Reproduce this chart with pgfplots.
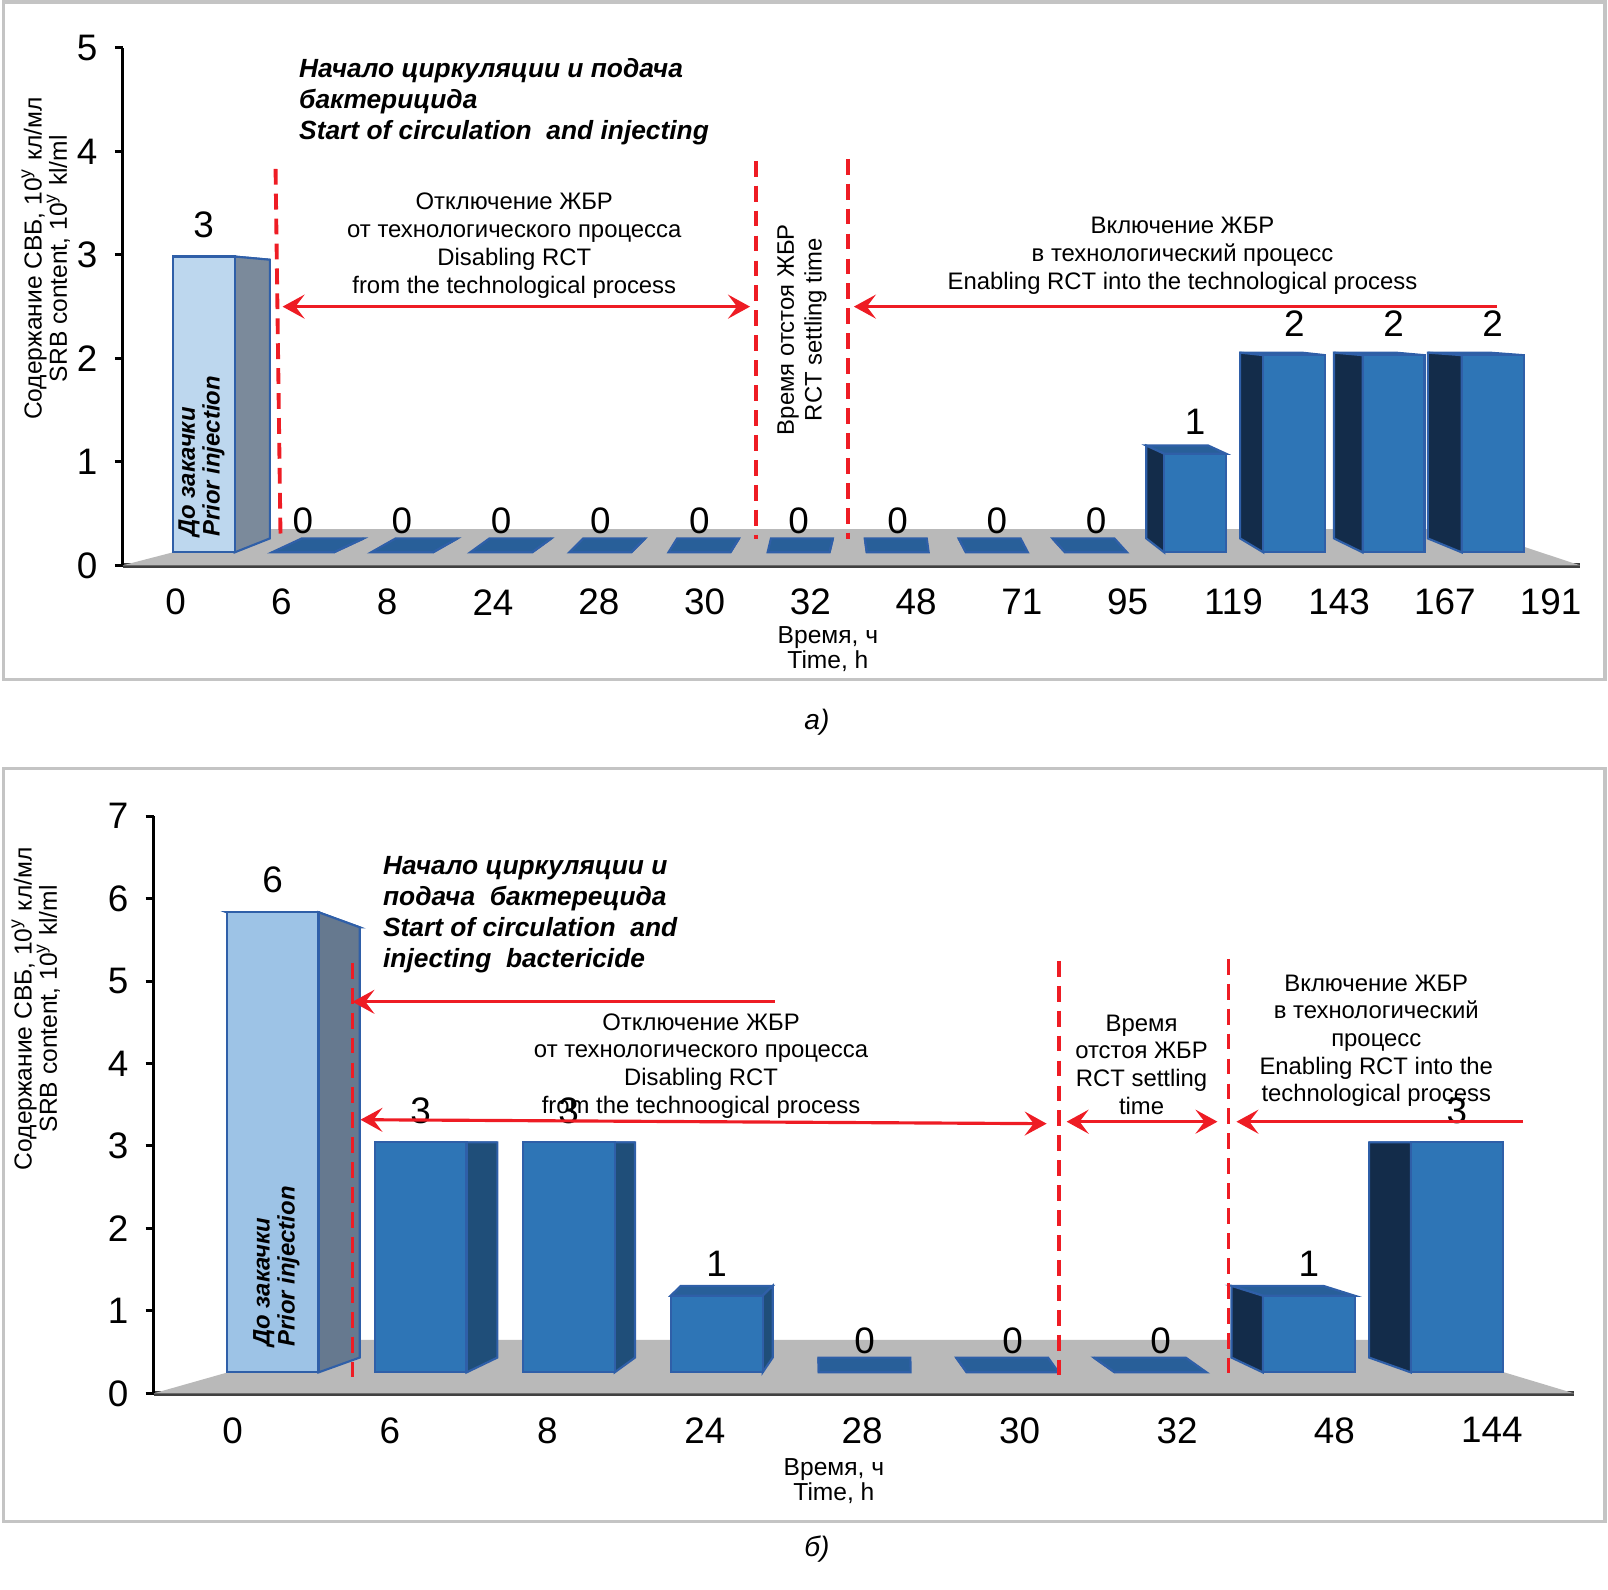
\documentclass[border=0pt]{standalone}
\usepackage{fontspec}
\setmainfont{Liberation Sans}
\usepackage{pgfplots}
\pgfplotsset{compat=1.18}
\usetikzlibrary{arrows.meta}

\definecolor{floorgray}{HTML}{B9B9B9}
\definecolor{floorline}{HTML}{404040}
\definecolor{frameg}{HTML}{C4C4C4}
\definecolor{redl}{HTML}{EE1C24}
\definecolor{bluefront}{HTML}{2E75B6}
\definecolor{bluetop}{HTML}{285F99}
\definecolor{blueside}{HTML}{1F4E79}
\definecolor{bluedark}{HTML}{132C4A}
\definecolor{edge}{HTML}{2F5FA8}
\definecolor{lightA}{HTML}{BDD7EE}
\definecolor{lightB}{HTML}{9DC3E6}
\definecolor{greyA}{HTML}{7B8A9B}
\definecolor{greyB}{HTML}{66798F}

\newcommand\ticks{\fontsize{10.5}{12}\selectfont}
\newcommand\ann{\fontsize{6.8}{7.9}\selectfont}
\newcommand\bi{\fontsize{7.5}{8.8}\selectfont\bfseries\itshape}
\newcommand\bis{\fontsize{6.8}{7.1}\selectfont\bfseries\itshape}
\newcommand\ylab{\fontsize{7}{7.2}\selectfont}

\tikzset{
  frontA/.style={fill=lightA, draw=edge, line width=0.6pt},
  sideA/.style={fill=greyA, draw=edge, line width=0.6pt},
  topA/.style={fill=lightA!85!black, draw=edge, line width=0.6pt},
  frontD/.style={fill=lightB, draw=edge, line width=0.6pt},
  sideD/.style={fill=greyB, draw=edge, line width=0.6pt},
  topD/.style={fill=lightB!85!black, draw=edge, line width=0.6pt},
  frontR/.style={fill=bluefront, draw=edge, line width=0.6pt},
  sideR/.style={fill=blueside, draw=edge, line width=0.6pt},
  topR/.style={fill=bluetop, draw=edge, line width=0.6pt},
  frontL/.style={fill=bluefront, draw=edge, line width=0.6pt},
  sideL/.style={fill=bluedark, draw=edge, line width=0.6pt},
  topL/.style={fill=bluetop, draw=edge, line width=0.6pt},
  barlabel/.style={font=\ticks, anchor=center, yshift=3.2mm, inner sep=0pt},
  reddash/.style={redl, line width=1.1pt, dash pattern=on 4.5pt off 2.6pt},
  arr/.style={redl, line width=0.9pt},
}

% 3D-looking bar: #1 category index, #2 value, #3 style set
\newcommand\tdbar[3]{%
  \pgfmathsetmacro\xc{\xA+\xB*#1}%
  \pgfmathsetmacro\xl{\xc-\hw}%
  \pgfmathsetmacro\xr{\xc+\hw}%
  \pgfmathsetmacro\yt{\bY+\sY*#2}%
  \pgfmathsetmacro\dx{\sk*(\vp-\xc)}%
  \pgfmathsetmacro\ytb{\yt+\dyb-\kk*(\yt-\bY)}%
  \pgfmathsetmacro\ybb{\bY+\dyb}%
  \pgfmathsetmacro\xs{\dx>0 ? \xr : \xl}%
  \pgfmathsetmacro\xsb{\xs+\dx}%
  \pgfmathsetmacro\xlb{\xl+\dx}%
  \pgfmathsetmacro\xrb{\xr+\dx}%
  \edef\tmp{%
    \noexpand\addplot[top#3] coordinates {(\xl,\yt) (\xr,\yt) (\xrb,\ytb) (\xlb,\ytb)} --cycle;
    \noexpand\addplot[side#3] coordinates {(\xs,\bY) (\xsb,\ybb) (\xsb,\ytb) (\xs,\yt)} --cycle;
    \noexpand\addplot[front#3] coordinates {(\xl,\bY) (\xr,\bY) (\xr,\yt) (\xl,\yt)} --cycle;
    \noexpand\node[barlabel] at (axis cs:\xc,\yt) {#2};
  }\tmp
}

\begin{document}
\begin{tikzpicture}
\path (0,0) rectangle (16.08cm,-15.91cm);

% ---------------- panel a ----------------
\def\bY{0.125}\def\sY{0.953}\def\xA{0.264}\def\xB{0.9375}\def\hw{0.293}
\def\vp{6.478}\def\sk{0.0537}\def\dyb{0.135}\def\kk{0.058}
\begin{axis}[
  at={(1.21cm,-5.66cm)}, anchor=south west,
  scale only axis, width=14.59cm, height=5.18cm,
  xmin=-0.5005, xmax=13.277, ymin=0, ymax=5,
  axis x line=bottom, axis y line=left,
  x axis line style={-, line width=1.4pt, draw=floorline},
  y axis line style={-, line width=0.85pt, draw=black},
  xtick={0,...,13},
  xticklabels={0,6,8,24,28,30,32,48,71,95,119,143,167,191},
  ytick={0,...,5},
  major x tick style={draw=none},
  tick align=outside, major tick length=0.8mm,
  major y tick style={line width=0.85pt, black},
  tick label style={font=\ticks},
  /pgf/number format/assume math mode=true,
  xticklabel style={anchor=center, yshift=-2.9mm},
  yticklabel style={xshift=-0.5mm},
  clip=false,
]
\addplot[fill=floorgray, draw=none] coordinates {(-0.5005,0) (13.277,0) (12.24,0.35) (0.82,0.35)} --cycle;
\tdbar{0}{3}{A}
\tdbar{1}{0}{R}
\tdbar{2}{0}{R}
\tdbar{3}{0}{R}
\tdbar{4}{0}{R}
\tdbar{5}{0}{R}
\tdbar{6}{0}{R}
\tdbar{7}{0}{L}
\tdbar{8}{0}{L}
\tdbar{9}{0}{L}
\tdbar{10}{1}{L}
\tdbar{11}{2}{L}
\tdbar{12}{2}{L}
\tdbar{13}{2}{L}
\end{axis}

% ---------------- panel b ----------------
\def\bY{0.254}\def\sY{0.93}\def\xA{0.254}\def\xB{0.9404}\def\hw{0.292}
\def\vp{3.991}\def\sk{0.07}\def\dyb{0.18}\def\kk{0.065}
\begin{axis}[
  at={(1.52cm,-13.95cm)}, anchor=south west,
  scale only axis, width=14.22cm, height=5.78cm,
  xmin=-0.501, xmax=8.522, ymin=0, ymax=7,
  axis x line=bottom, axis y line=left,
  x axis line style={-, line width=1.4pt, draw=floorline},
  y axis line style={-, line width=0.85pt, draw=black},
  xtick={0,...,8},
  xticklabels={0,6,8,24,28,30,32,48,144},
  ytick={0,...,7},
  major x tick style={draw=none},
  tick align=outside, major tick length=0.8mm,
  major y tick style={line width=0.85pt, black},
  tick label style={font=\ticks},
  /pgf/number format/assume math mode=true,
  xticklabel style={anchor=center, yshift=-2.9mm},
  yticklabel style={xshift=-0.5mm},
  clip=false,
]
\addplot[fill=floorgray, draw=none] coordinates {(-0.501,0) (8.522,0) (7.39,0.65) (0.70,0.65)} --cycle;
\tdbar{0}{6}{D}
\tdbar{1}{3}{R}
\tdbar{2}{3}{R}
\tdbar{3}{1}{R}
\tdbar{4}{0}{R}
\tdbar{5}{0}{L}
\tdbar{6}{0}{L}
\tdbar{7}{1}{L}
\tdbar{8}{3}{L}
\end{axis}

% ---------------- annotations ----------------
\begin{scope}[x=0.1mm, y=-0.1mm]
\draw[frameg, line width=0.9pt] (2,2) rectangle (1605,680);
\draw[frameg, line width=0.9pt] (2,769) rectangle (1605,1523);

% panel a
\node[rotate=90, align=center, font=\ylab] at (44,259)
  {Содержание СВБ, 10\textsuperscript{y} кл/мл\\SRB content, 10\textsuperscript{y} kl/ml};
\node[align=center, font=\ylab] at (827,650) {Время, ч\\Time, h};
\node[rotate=90, anchor=north west, align=left, inner sep=0pt, font=\bis] at (176,538)
  {До закачки\\Prior injection};
\node[anchor=north west, align=left, inner sep=0pt, font=\bi] at (297,58)
  {Начало циркуляции и подача\\бактерицида\\Start of circulation \ and injecting};
\draw[reddash] (274,169) -- (279,540);
\draw[reddash] (755,161) -- (755,540);
\draw[reddash] (847,159) -- (847,540);
\node[align=center, font=\ann] at (513,246)
  {Отключение ЖБР\\от технологического процесса\\Disabling RCT\\from the technological process};
\draw[arr, {Stealth[length=2.2mm,width=2.4mm,inset=0.9mm]}-{Stealth[length=2.2mm,width=2.4mm,inset=0.9mm]}] (281,307) -- (749,307);
\node[rotate=90, align=center, font=\ann] at (801,330) {Время отстоя ЖБР\\RCT settling time};
\draw[arr, -{Stealth[length=2.2mm,width=2.4mm,inset=0.9mm]}] (1497,307) -- (853,307);
\node[align=center, font=\ann] at (1182,256)
  {Включение ЖБР\\в технологический процесс\\Enabling RCT into the technological process};
\node[font=\fontsize{8}{9}\selectfont\itshape] at (816,723) {а)};

% panel b
\node[rotate=90, align=center, font=\ylab] at (34,1010)
  {Содержание СВБ, 10\textsuperscript{y} кл/мл\\SRB content, 10\textsuperscript{y} kl/ml};
\node[align=center, font=\ylab] at (833,1483) {Время, ч\\Time, h};
\node[rotate=90, anchor=north west, align=left, inner sep=0pt, font=\bis] at (251,1349)
  {До закачки\\Prior injection};
\node[anchor=north west, align=left, inner sep=0pt, font=\bi] at (381,857)
  {Начало циркуляции и\\подача \ бактерецида\\Start of circulation \ and\\injecting \ bactericide};
\draw[reddash] (351,964) -- (351,1384);
\draw[reddash] (1058,962) -- (1058,1379);
\draw[reddash] (1228,960) -- (1228,1379);
\draw[arr, -{Stealth[length=2.2mm,width=2.4mm,inset=0.9mm]}] (774,1003) -- (351,1003);
\node[align=center, font=\ann] at (700,1067)
  {Отключение ЖБР\\от технологического процесса\\Disabling RCT\\from the technoogical process};
\draw[arr, {Stealth[length=2.2mm,width=2.4mm,inset=0.9mm]}-{Stealth[length=2.2mm,width=2.4mm,inset=0.9mm]}] (359,1121) -- (1046,1125);
\node[align=center, font=\ann] at (1141,1066)
  {Время\\отстоя ЖБР\\RCT settling\\time};
\draw[arr, {Stealth[length=2.2mm,width=2.4mm,inset=0.9mm]}-{Stealth[length=2.2mm,width=2.4mm,inset=0.9mm]}] (1066,1123) -- (1217,1123);
\draw[arr, -{Stealth[length=2.2mm,width=2.4mm,inset=0.9mm]}] (1523,1123) -- (1236,1123);
\node[align=center, font=\ann] at (1376,1042)
  {Включение ЖБР\\в технологический\\процесс\\Enabling RCT into the\\technological process};
\node[font=\fontsize{8}{9}\selectfont\itshape] at (816,1551) {б)};
\end{scope}
\end{tikzpicture}
\end{document}
